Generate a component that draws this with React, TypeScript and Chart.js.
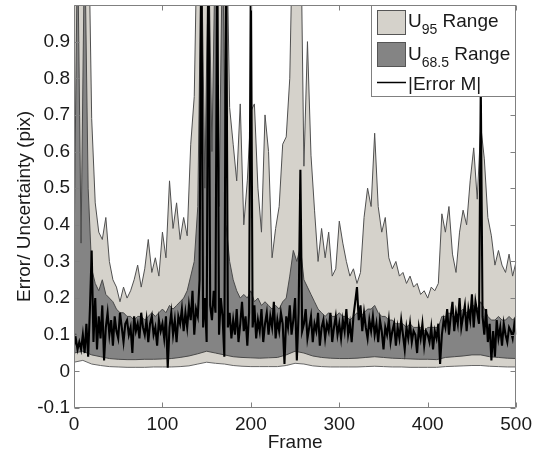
import React, { useEffect, useRef } from 'react';
import { Chart, registerables } from 'chart.js';

Chart.register(...registerables);

// Frame indices (categories)
const bandFrames: number[] = Array.from({ length: 126 }, (_, i) => i * 4);
const lowFrames: number[] = Array.from({ length: 51 }, (_, i) => i * 10);
const errFrames: number[] = Array.from({ length: 251 }, (_, i) => i * 2);

const xTickLabels = [0, 100, 200, 300, 400, 500];
const yTickLabels = [-0.1, 0, 0.1, 0.2, 0.3, 0.4, 0.5, 0.6, 0.7, 0.8, 0.9];

// U95 range, upper bound (every 4 frames)
const u95Upper: number[] = [
  1.3, 1.3, 1.3, 1.3, 1.3, 0.69, 0.46, 0.38, 0.36, 0.42,
  0.30, 0.25, 0.23, 0.19, 0.23, 0.20, 0.22, 0.25, 0.29, 0.23,
  0.28, 0.36, 0.27, 0.31, 0.26, 0.38, 0.31, 0.52, 0.39, 0.46,
  0.36, 0.42, 0.37, 0.62, 0.75, 1.3, 1.3, 1.3, 1.3, 1.3,
  1.3, 1.3, 1.3, 1.3, 0.72, 0.62, 0.52, 0.73, 0.40, 0.52,
  0.71, 0.73, 0.50, 0.38, 0.70, 0.60, 0.31, 0.39, 0.45, 0.62,
  0.64, 0.80, 1.3, 1.3, 1.3, 0.56, 0.90, 0.59, 0.44, 0.30,
  0.39, 0.31, 0.38, 0.26, 0.28, 0.41, 0.35, 0.30, 0.26, 0.28,
  0.24, 0.27, 0.42, 0.50, 0.45, 0.65, 0.45, 0.38, 0.42, 0.31,
  0.28, 0.30, 0.26, 0.27, 0.24, 0.26, 0.23, 0.24, 0.21, 0.22,
  0.20, 0.23, 0.22, 0.24, 0.43, 0.38, 0.45, 0.32, 0.27, 0.38,
  0.44, 0.40, 0.52, 0.61, 0.47, 0.67, 0.58, 0.42, 0.37, 0.29,
  0.33, 0.29, 0.27, 0.32, 0.26, 0.30,
];

// U95 range, lower bound (every 10 frames)
const u95Lower: number[] = [
  0.025, 0.03, 0.02, 0.016, 0.013, 0.012, 0.011, 0.011, 0.011, 0.012,
  0.012, 0.012, 0.013, 0.015, 0.02, 0.025, 0.022, 0.02, 0.016, 0.014,
  0.013, 0.013, 0.013, 0.013, 0.016, 0.022, 0.02, 0.015, 0.013, 0.012,
  0.012, 0.012, 0.012, 0.013, 0.014, 0.013, 0.012, 0.012, 0.011, 0.011,
  0.011, 0.011, 0.013, 0.014, 0.015, 0.016, 0.016, 0.014, 0.013, 0.012,
  0.012,
];

// U68.5 range, upper bound (every 4 frames)
const u68Upper: number[] = [
  0.30, 1.2, 0.35, 1.2, 0.50, 0.28, 0.24, 0.22, 0.25, 0.21,
  0.20, 0.19, 0.17, 0.16, 0.16, 0.15, 0.15, 0.14, 0.15, 0.15,
  0.14, 0.15, 0.16, 0.15, 0.16, 0.17, 0.16, 0.18, 0.17, 0.18,
  0.19, 0.20, 0.22, 0.26, 0.30, 0.45, 1.2, 0.50, 1.2, 0.60,
  1.2, 0.45, 1.2, 0.40, 0.30, 0.25, 0.22, 0.20, 0.21, 0.20,
  0.22, 0.19, 0.20, 0.18, 0.19, 0.18, 0.17, 0.18, 0.17, 0.19,
  0.20, 0.26, 0.33, 0.30, 0.34, 0.25, 0.23, 0.21, 0.19, 0.17,
  0.16, 0.15, 0.16, 0.15, 0.15, 0.16, 0.15, 0.15, 0.14, 0.15,
  0.16, 0.15, 0.16, 0.17, 0.17, 0.18, 0.16, 0.15, 0.15, 0.14,
  0.14, 0.13, 0.13, 0.13, 0.12, 0.13, 0.12, 0.12, 0.12, 0.11,
  0.12, 0.12, 0.12, 0.12, 0.15, 0.15, 0.16, 0.15, 0.15, 0.16,
  0.17, 0.16, 0.17, 0.18, 0.17, 0.19, 0.17, 0.15, 0.14, 0.14,
  0.15, 0.14, 0.14, 0.15, 0.14, 0.15,
];

// U68.5 range, lower bound (every 10 frames)
const u68Lower: number[] = [
  0.05, 0.055, 0.045, 0.04, 0.035, 0.033, 0.032, 0.032, 0.033, 0.033,
  0.034, 0.035, 0.038, 0.042, 0.048, 0.055, 0.05, 0.045, 0.04, 0.038,
  0.037, 0.036, 0.037, 0.038, 0.045, 0.055, 0.05, 0.042, 0.038, 0.036,
  0.035, 0.035, 0.036, 0.038, 0.04, 0.038, 0.036, 0.035, 0.034, 0.033,
  0.033, 0.032, 0.038, 0.04, 0.042, 0.045, 0.045, 0.04, 0.038, 0.036,
  0.035,
];

// |Error M| (every 2 frames)
const errorM: number[] = [
  0.07, 0.09, 0.06, 0.08, 0.06, 0.10, 0.05, 0.13, 0.04, 0.17,
  0.33, 0.08, 0.20, 0.06, 0.15, 0.09, 0.18, 0.03, 0.12, 0.16,
  0.10, 0.14, 0.07, 0.15, 0.11, 0.09, 0.16, 0.12, 0.08, 0.13,
  0.14, 0.10, 0.12, 0.05, 0.15, 0.11, 0.13, 0.09, 0.16, 0.12,
  0.10, 0.14, 0.08, 0.13, 0.15, 0.10, 0.12, 0.07, 0.14, 0.11,
  0.13, 0.09, 0.15, 0.01, 0.12, 0.16, 0.10, 0.14, 0.08, 0.15,
  0.13, 0.17, 0.11, 0.16, 0.12, 0.18, 0.14, 0.22, 0.10, 0.17,
  0.15, 0.25, 1.20, 0.12, 0.20, 0.08, 1.20, 0.18, 0.14, 0.22,
  0.16, 1.20, 0.10, 0.20, 0.15, 0.04, 1.20, 0.12, 0.16, 0.09,
  0.14, 0.10, 0.17, 0.08, 0.13, 0.19, 0.11, 0.15, 0.07, 0.16,
  1.10, 0.12, 0.18, 0.09, 0.14, 0.11, 0.17, 0.08, 0.13, 0.16,
  0.10, 0.15, 0.12, 0.19, 0.09, 0.14, 0.11, 0.16, 0.13, 0.02,
  0.15, 0.12, 0.18, 0.10, 0.14, 0.20, 0.03, 0.16, 0.55, 0.11,
  0.13, 0.17, 0.09, 0.12, 0.15, 0.08, 0.13, 0.11, 0.16, 0.07,
  0.12, 0.14, 0.09, 0.13, 0.11, 0.16, 0.08, 0.12, 0.15, 0.10,
  0.13, 0.09, 0.14, 0.11, 0.17, 0.10, 0.13, 0.08, 0.15, 0.19,
  0.23, 0.14, 0.18, 0.11, 0.16, 0.12, 0.09, 0.14, 0.11, 0.15,
  0.10, 0.13, 0.08, 0.14, 0.11, 0.06, 0.12, 0.10, 0.14, 0.08,
  0.11, 0.13, 0.07, 0.12, 0.09, 0.14, 0.10, 0.06, 0.12, 0.09,
  0.13, 0.08, 0.11, 0.10, 0.05, 0.12, 0.09, 0.13, 0.07, 0.11,
  0.10, 0.08, 0.12, 0.06, 0.11, 0.09, 0.13, 0.02, 0.10, 0.14,
  0.12, 0.17, 0.10, 0.15, 0.19, 0.11, 0.16, 0.13, 0.20, 0.12,
  0.15, 0.18, 0.11, 0.17, 0.14, 0.21, 0.12, 0.19, 0.16, 0.13,
  0.78, 0.15, 0.10, 0.17, 0.08, 0.13, 0.03, 0.11, 0.04, 0.14,
  0.09, 0.12, 0.07, 0.13, 0.10, 0.08, 0.12, 0.11, 0.09, 0.13,
  0.10,
];

const LIGHT = '#d5d2cb';
const DARK = '#848484';
const FONT = "'Liberation Sans', Arial, sans-serif";
const TEXT = '#1a1a1a';
const AXIS = '#808080';

const pts = (xs: number[], ys: number[]) => xs.map((x, i) => ({ x, y: ys[i] }));

const boxPlugin = {
  id: 'matBox',
  afterDatasetsDraw(chart: any) {
    const { ctx, chartArea: a, scales } = chart;
    const xs = scales.x;
    const ys = scales.y;
    ctx.save();
    ctx.strokeStyle = AXIS;
    ctx.lineWidth = 1;
    const L = Math.round(a.left) + 0.5;
    const R = Math.round(a.right) - 0.5;
    const T = Math.round(a.top) + 0.5;
    const B = Math.round(a.bottom) - 0.5;
    ctx.beginPath();
    ctx.rect(L, T, R - L, B - T);
    const tl = 5;
    xTickLabels.forEach((t) => {
      const px = Math.round(xs.getPixelForValue(t)) + 0.5;
      ctx.moveTo(px, B);
      ctx.lineTo(px, B - tl);
      ctx.moveTo(px, T);
      ctx.lineTo(px, T + tl);
    });
    yTickLabels.forEach((t) => {
      const py = Math.round(ys.getPixelForValue(t)) + 0.5;
      ctx.moveTo(L, py);
      ctx.lineTo(L + tl, py);
      ctx.moveTo(R, py);
      ctx.lineTo(R - tl, py);
    });
    ctx.stroke();
    ctx.restore();
  },
};

const legendPlugin = {
  id: 'matLegend',
  afterDraw(chart: any) {
    const { ctx, chartArea: a } = chart;
    const w = 145;
    const h = 92;
    const x0 = Math.round(a.right) - w;
    const y0 = Math.round(a.top);
    ctx.save();
    ctx.fillStyle = '#ffffff';
    ctx.fillRect(x0, y0, w, h);
    ctx.strokeStyle = AXIS;
    ctx.lineWidth = 1;
    ctx.strokeRect(x0 + 0.5, y0 + 0.5, w - 1, h - 1);

    const sx = x0 + 6;
    const sw = 29;
    const sh = 25;
    ctx.strokeStyle = '#555555';
    ctx.fillStyle = LIGHT;
    ctx.fillRect(sx, y0 + 5, sw, sh);
    ctx.strokeRect(sx + 0.5, y0 + 5.5, sw - 1, sh - 1);
    ctx.fillStyle = DARK;
    ctx.fillRect(sx, y0 + 37, sw, sh);
    ctx.strokeRect(sx + 0.5, y0 + 37.5, sw - 1, sh - 1);
    ctx.strokeStyle = '#000000';
    ctx.lineWidth = 1.5;
    ctx.beginPath();
    ctx.moveTo(sx, y0 + 77.5);
    ctx.lineTo(sx + sw, y0 + 77.5);
    ctx.stroke();

    const tx = x0 + 37;
    ctx.fillStyle = TEXT;
    ctx.textBaseline = 'alphabetic';
    ctx.textAlign = 'left';
    const big = `19px ${FONT}`;
    const small = `14px ${FONT}`;
    const row = (sub: string, base: number) => {
      ctx.font = big;
      ctx.fillText('U', tx, base);
      let cx = tx + ctx.measureText('U').width;
      ctx.font = small;
      ctx.fillText(sub, cx, base + 7);
      cx += ctx.measureText(sub).width;
      ctx.font = big;
      ctx.fillText(' Range', cx, base);
    };
    row('95', y0 + 22);
    row('68.5', y0 + 55);
    ctx.font = big;
    ctx.fillText('|Error M|', tx, y0 + 85);
    ctx.restore();
  },
};

export default function App() {
  const ref = useRef<HTMLCanvasElement | null>(null);

  useEffect(() => {
    if (!ref.current) return;
    const chart = new Chart(ref.current, {
      type: 'line',
      data: {
        datasets: [
          {
            label: 'U95 upper',
            data: pts(bandFrames, u95Upper),
            borderColor: '#505050',
            borderWidth: 1,
            backgroundColor: LIGHT,
            fill: '+1',
            pointRadius: 0,
            order: 5,
          },
          {
            label: 'U95 lower',
            data: pts(lowFrames, u95Lower),
            borderColor: '#666666',
            borderWidth: 1,
            fill: false,
            pointRadius: 0,
            order: 4,
          },
          {
            label: 'U68.5 upper',
            data: pts(bandFrames, u68Upper),
            borderColor: '#4a4a4a',
            borderWidth: 1,
            backgroundColor: DARK,
            fill: '+1',
            pointRadius: 0,
            order: 3,
          },
          {
            label: 'U68.5 lower',
            data: pts(lowFrames, u68Lower),
            borderColor: '#4a4a4a',
            borderWidth: 1,
            fill: false,
            pointRadius: 0,
            order: 2,
          },
          {
            label: '|Error M|',
            data: pts(errFrames, errorM),
            borderColor: '#000000',
            borderWidth: 2.1,
            fill: false,
            pointRadius: 0,
            order: 1,
          },
        ],
      },
      options: {
        animation: false,
        responsive: true,
        maintainAspectRatio: false,
        layout: { padding: { top: 5, right: 17, left: 0, bottom: 0 } },
        plugins: {
          legend: { display: false },
          tooltip: { enabled: false },
        },
        elements: { line: { tension: 0 } },
        scales: {
          x: {
            type: 'linear',
            min: 0,
            max: 500,
            grid: { display: false, drawTicks: false },
            border: { display: false },
            ticks: {
              stepSize: 100,
              padding: 5,
              color: TEXT,
              font: { family: FONT, size: 19 },
              maxRotation: 0,
            },
            title: {
              display: true,
              text: 'Frame',
              color: TEXT,
              font: { family: FONT, size: 19 },
              padding: { top: 0, bottom: -1.5 },
            },
            afterFit: (s: any) => {
              s.height = 45;
            },
          },
          y: {
            type: 'linear',
            min: -0.1,
            max: 1.0,
            grid: { display: false, drawTicks: false },
            border: { display: false },
            ticks: {
              stepSize: 0.1,
              padding: 4,
              color: TEXT,
              font: { family: FONT, size: 19 },
              callback: (v: any) => {
                const r = Math.round(Number(v) * 10) / 10;
                return r > 0.95 ? '' : String(r);
              },
            },
            title: {
              display: true,
              text: 'Error/ Uncertainty (pix)',
              color: TEXT,
              font: { family: FONT, size: 19 },
              padding: { top: 13, bottom: 0 },
            },
            afterFit: (s: any) => {
              s.width = 74;
              s.paddingTop = 0;
              s.paddingBottom = 0;
            },
          },
        },
      },
      plugins: [boxPlugin, legendPlugin],
    });
    return () => chart.destroy();
  }, []);

  return (
    <div style={{ position: 'fixed', left: 0, top: 0, width: 537, height: 453, background: '#ffffff' }}>
      <canvas ref={ref} />
    </div>
  );
}
